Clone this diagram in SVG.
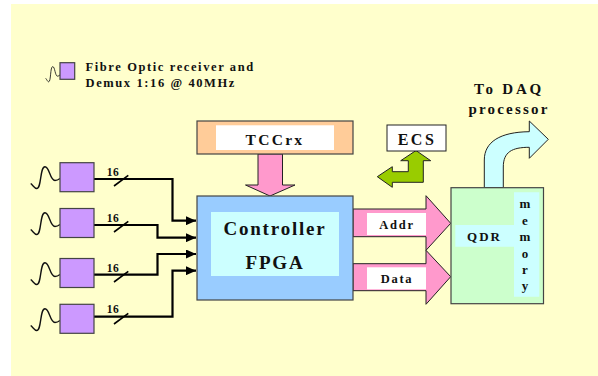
<svg xmlns="http://www.w3.org/2000/svg" width="598" height="376" viewBox="0 0 598 376">
<style>
text{font-family:"Liberation Serif","Times New Roman",serif;font-weight:bold;fill:#111;text-anchor:middle}
.box{stroke:#444;stroke-width:1.2}
.rx{fill:#CC99FF}
.wave{fill:none;stroke:#111;stroke-width:1.4}
.wire{fill:none;stroke:#000;stroke-width:2.2;marker-end:url(#ah)}
.sl{stroke:#000;stroke-width:1.6}
.n{font-size:11.5px;letter-spacing:.4px}
.fat{stroke:#222;stroke-width:1;stroke-linejoin:miter}
.l{font-size:12.5px;letter-spacing:1.7px}
.ll{font-size:12.5px;letter-spacing:1.6px;text-anchor:start}
.t{font-size:15px;letter-spacing:2.2px}
.f{font-size:19px;letter-spacing:1.8px}
</style>
<defs>
<marker id="ah" markerUnits="userSpaceOnUse" markerWidth="11" markerHeight="9" refX="10" refY="4.500" orient="auto"><path d="M0 0L10 4.500L0 9z" fill="#000"/></marker>
<path id="w" d="M0 0C2 1.500 4 5 6 5C11 5 9-16.700 14.300-16.700C19-16.700 19-3 24.300-3C26-3 28-4 29.300-5"/>
</defs>
<rect x="11" y="4" width="587" height="372" fill="#FFFFCC"/>
<g id="legend">
<use href="#w" class="wave" transform="translate(45.700 78.300) scale(.49 .7)"/>
<rect class="box rx" x="60" y="62.700" width="14.700" height="16.600"/>
<text class="ll" x="85.500" y="71">Fibre Optic receiver and</text>
<text class="ll" x="85.500" y="87">Demux 1:16 @ 40MHz</text>
</g>
<g id="connectors">
<path class="wire" d="M94 179H172.500V220.700H196"/>
<path class="wire" d="M94 225H157.500V237.700H196"/>
<path class="wire" d="M94 274.700H157.500V254H196"/>
<path class="wire" d="M94 316.700H172.500V270.700H196"/>
<path class="sl" d="M114 186L128.300 175.300M114 232L128.300 221.300M114 282L128.300 271.300M114 324L128.300 313.300"/>
</g>
<g id="rx1"><use href="#w" class="wave" transform="translate(30.700 183.500)"/><rect class="box rx" x="60" y="162.700" width="34" height="29"/><text class="n" x="113" y="176">16</text></g>
<g id="rx2"><use href="#w" class="wave" transform="translate(30.700 229.500)"/><rect class="box rx" x="60" y="208.500" width="34" height="29"/><text class="n" x="113" y="222">16</text></g>
<g id="rx3"><use href="#w" class="wave" transform="translate(30.700 279.500)"/><rect class="box rx" x="60" y="258.500" width="34" height="29"/><text class="n" x="113" y="272">16</text></g>
<g id="rx4"><use href="#w" class="wave" transform="translate(30.700 325.500)"/><rect class="box rx" x="60" y="304.300" width="34" height="29"/><text class="n" x="113" y="313">16</text></g>
<g id="tccrx">
<path class="fat" fill="#FF99CC" d="M258 154H282.500V185H295L270 196L245.500 185H258z"/>
<rect class="box" x="197" y="121" width="156" height="33" fill="#FFCC99"/>
<rect x="216" y="125.300" width="118" height="24.700" fill="#fff"/>
<text class="t" style="font-size:15.500px;letter-spacing:2.300px" x="275" y="144.500">TCCrx</text>
</g>
<g id="addr">
<path class="fat" fill="#FF99CC" d="M353 209H426V195.700L450.700 223.300L426 250.300V236.700H353z"/>
<rect x="367" y="213" width="59" height="22" fill="#fff"/>
<text class="l" x="397" y="228.500">Addr</text>
</g>
<g id="data">
<path class="fat" fill="#FF99CC" d="M353 263.700H426V250.300L450.700 276.700L426 304.300V290.700H353z"/>
<rect x="367" y="267.300" width="59" height="22" fill="#fff"/>
<text class="l" x="397" y="282.700">Data</text>
</g>
<g id="fpga">
<rect class="box" x="197" y="196" width="156" height="104" fill="#99CCFF"/>
<rect x="211" y="212" width="128" height="64" fill="#CCFFFF"/>
<text class="f" x="275" y="234.500">Controller</text>
<text class="f" x="275" y="269">FPGA</text>
</g>
<g id="ecs">
<path class="fat" fill="#99CC00" d="M416 150.500L430.700 160.700H423.300V182.300H392.300V187.300L377.300 176.700L392.300 166.700V171.700H408.300V160.700H400.700z"/>
<rect x="387" y="125" width="59" height="26" fill="#fff" stroke="#222"/>
<text class="t" style="font-size:16px;letter-spacing:2.500px" x="417" y="145">ECS</text>
</g>
<g id="daq">
<path class="fat" fill="#CCFFFF" d="M484.300 187.700V160C484.300 142 500 132 529.300 131.700V121L548.300 139.300L529.300 158.300V147.300C512 147.300 503.300 152 503.300 167V187.700z"/>
<text class="t" style="letter-spacing:2.800px" x="509" y="94">To DAQ</text>
<text class="t" x="509" y="114">processor</text>
</g>
<g id="qdr">
<rect class="box" x="451" y="187.700" width="92.500" height="116" fill="#CCFFCC"/>
<path fill="#CCFFFF" d="M514 192.300H539.300V296.700H514V246.700H455.300V225H514z"/>
<text class="l" x="484.500" y="241" style="font-size:13px;letter-spacing:2px">QDR</text>
<g style="font-size:13px"><text x="525" y="207.500">m</text><text x="525" y="225">e</text><text x="525" y="241">m</text><text x="525" y="257.500">o</text><text x="525" y="274">r</text><text x="525" y="290">y</text></g>
</g>
</svg>
